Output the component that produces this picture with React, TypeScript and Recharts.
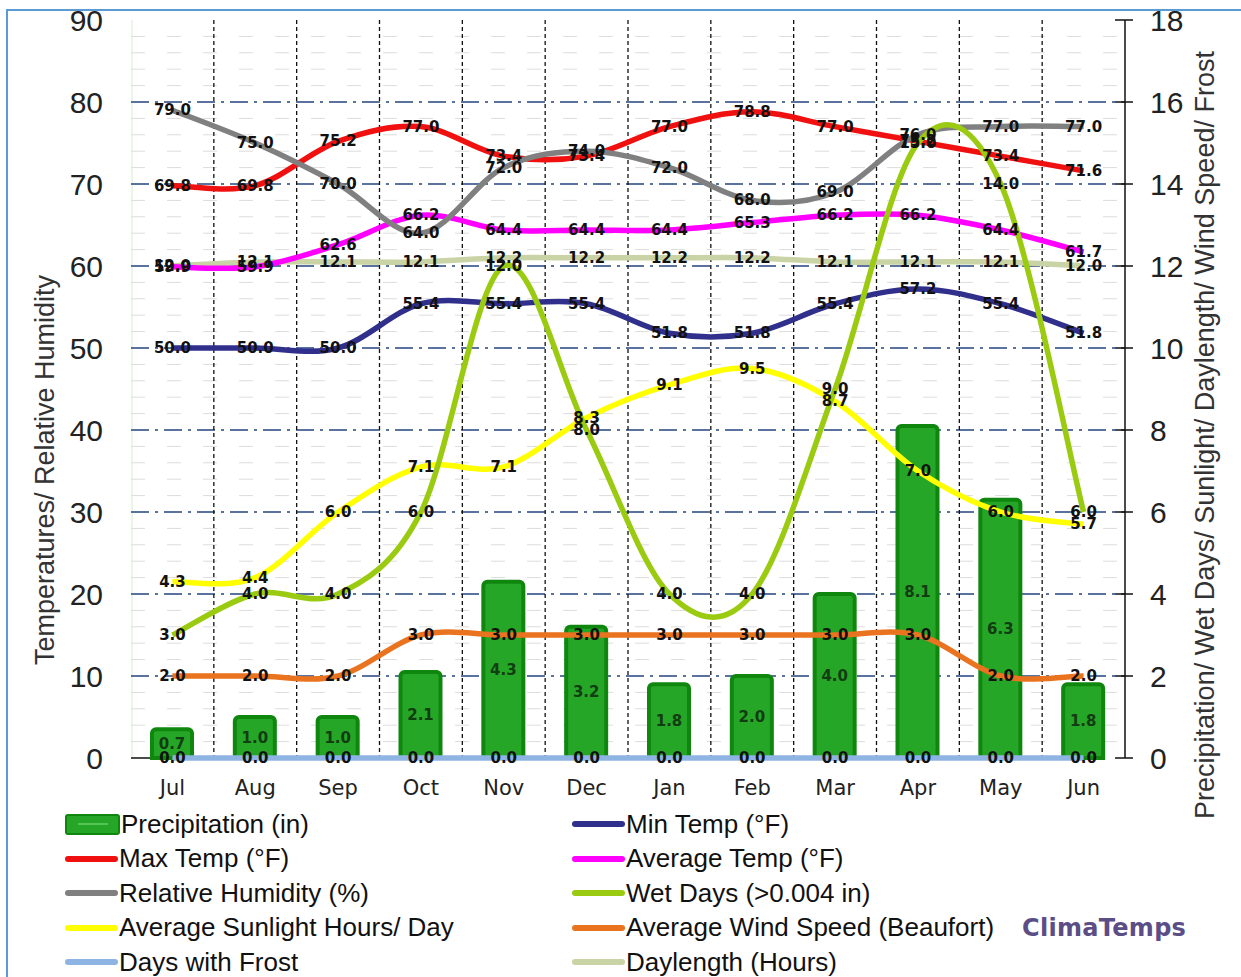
import React from 'react'
import { ComposedChart, Bar, Line, XAxis, YAxis, CartesianGrid, LabelList } from 'recharts'

const MONTHS = ['Jul', 'Aug', 'Sep', 'Oct', 'Nov', 'Dec', 'Jan', 'Feb', 'Mar', 'Apr', 'May', 'Jun']
const PRECIP = [0.7, 1.0, 1.0, 2.1, 4.3, 3.2, 1.8, 2.0, 4.0, 8.1, 6.3, 1.8]
const MIN_TEMP = [50.0, 50.0, 50.0, 55.4, 55.4, 55.4, 51.8, 51.8, 55.4, 57.2, 55.4, 51.8]
const MAX_TEMP = [69.8, 69.8, 75.2, 77.0, 73.4, 73.4, 77.0, 78.8, 77.0, 75.2, 73.4, 71.6]
const AVG_TEMP = [59.9, 59.9, 62.6, 66.2, 64.4, 64.4, 64.4, 65.3, 66.2, 66.2, 64.4, 61.7]
const HUMIDITY = [79.0, 75.0, 70.0, 64.0, 72.0, 74.0, 72.0, 68.0, 69.0, 76.0, 77.0, 77.0]
const WET_DAYS = [3.0, 4.0, 4.0, 6.0, 12.0, 8.0, 4.0, 4.0, 9.0, 15.0, 14.0, 6.0]
const SUNLIGHT = [4.3, 4.4, 6.0, 7.1, 7.1, 8.3, 9.1, 9.5, 8.7, 7.0, 6.0, 5.7]
const WIND = [2.0, 2.0, 2.0, 3.0, 3.0, 3.0, 3.0, 3.0, 3.0, 3.0, 2.0, 2.0]
const FROST = [0, 0, 0, 0, 0, 0, 0, 0, 0, 0, 0, 0]
const DAYLENGTH = [12.0, 12.1, 12.1, 12.1, 12.2, 12.2, 12.2, 12.2, 12.1, 12.1, 12.1, 12.0]

const LEFT_TICKS = [0, 10, 20, 30, 40, 50, 60, 70, 80, 90]
const RIGHT_TICKS = [0, 2, 4, 6, 8, 10, 12, 14, 16, 18]
const MAJOR_GRID = [10, 20, 30, 40, 50, 60, 70, 80]
const MINOR_GRID = [2, 4, 6, 8, 12, 14, 16, 18, 22, 24, 26, 28, 32, 34, 36, 38, 42, 44, 46, 48, 52, 54, 56, 58, 62, 64, 66, 68, 72, 74, 76, 78, 82, 84, 86, 88]

const C = {
  bar: '#26a626', barEdge: '#0f870f',
  min: '#30308c', max: '#f01010', avg: '#ff00ff', hum: '#808080',
  wet: '#9acb10', sun: '#ffff00', wind: '#e9731f', frost: '#8eb4e3', day: '#c9d3a5',
}

const data = MONTHS.map((month, i) => ({
  month,
  precip: PRECIP[i], min: MIN_TEMP[i], max: MAX_TEMP[i], avg: AVG_TEMP[i], hum: HUMIDITY[i],
  wet: WET_DAYS[i], sun: SUNLIGHT[i], wind: WIND[i], frost: FROST[i], day: DAYLENGTH[i],
}))

// excel-like smoothed line (catmull-rom through every point)
function smooth(context: any) {
  let pts: number[][] = []
  return {
    areaStart() {}, areaEnd() {},
    lineStart() { pts = [] },
    point(x: number, y: number) { pts.push([+x, +y]) },
    lineEnd() {
      const n = pts.length
      if (!n) return
      context.moveTo(pts[0][0], pts[0][1])
      const k = 1 / 6
      for (let i = 0; i < n - 1; i++) {
        const p0 = pts[Math.max(i - 1, 0)], p1 = pts[i], p2 = pts[i + 1], p3 = pts[Math.min(i + 2, n - 1)]
        context.bezierCurveTo(
          p1[0] + k * (p2[0] - p0[0]), p1[1] + k * (p2[1] - p0[1]),
          p2[0] - k * (p3[0] - p1[0]), p2[1] - k * (p3[1] - p1[1]),
          p2[0], p2[1],
        )
      }
    },
  }
}

const labelStyle: React.CSSProperties = { fontFamily: '"DejaVu Sans", Verdana, sans-serif', fontSize: 15, fontWeight: 700 }

const valueLabel = (color: string) => (props: any) => {
  const vb = props.viewBox || {}
  const x = (vb.x ?? props.x) + (vb.width || 0) / 2
  const y = (vb.y ?? props.y) + (vb.height || 0) / 2
  return (
    <text x={x} y={y} textAnchor="middle" dominantBaseline="central" fill={color} style={labelStyle}>
      {Number(props.value).toFixed(1)}
    </text>
  )
}

const tickFont = { fontFamily: '"Liberation Sans", Arial, sans-serif', fontSize: 30, fill: '#222' }

const LeftTick = (props: any) => {
  const { x, y, payload } = props
  return (
    <g>
      {payload.value === 0 && <line x1={x + 28} x2={x + 47} y1={y} y2={y} stroke="#111" strokeWidth={1.5} />}
      <text x={x} y={y} dy="0.36em" textAnchor="end" style={tickFont}>{payload.value}</text>
    </g>
  )
}

const RightTick = (props: any) => {
  const { x, y, payload } = props
  return (
    <g>
      <line x1={x - 35} x2={x - 17} y1={y} y2={y} stroke="#111" strokeWidth={1.5} />
      <text x={x} y={y} dy="0.36em" textAnchor="start" style={tickFont}>{payload.value}</text>
    </g>
  )
}

const LEGEND_LEFT = [
  { name: 'Precipitation (in)', color: C.bar, bar: true },
  { name: 'Max Temp (°F)', color: C.max },
  { name: 'Relative Humidity (%)', color: C.hum },
  { name: 'Average Sunlight Hours/ Day', color: C.sun },
  { name: 'Days with Frost', color: C.frost },
]
const LEGEND_RIGHT = [
  { name: 'Min Temp (°F)', color: C.min },
  { name: 'Average Temp (°F)', color: C.avg },
  { name: 'Wet Days (>0.004 in)', color: C.wet },
  { name: 'Average Wind Speed (Beaufort)', color: C.wind },
  { name: 'Daylength (Hours)', color: C.day },
]

function LegendCol({ items, left }: { items: any[]; left: number }) {
  return (
    <div style={{ position: 'absolute', left, top: 807 }}>
      {items.map((it) => (
        <div key={it.name} style={{ display: 'flex', alignItems: 'center', height: 34.5, fontFamily: '"Liberation Sans", Arial, sans-serif', fontSize: 26, color: '#111', whiteSpace: 'nowrap' }}>
          {it.bar ? (
            <div style={{ width: 51, height: 17, background: C.bar, border: `2px solid ${C.barEdge}`, borderRadius: 3, marginRight: 1, display: 'flex', alignItems: 'center', justifyContent: 'center' }}>
              <div style={{ width: 30, height: 2, background: '#55c455' }} />
            </div>
          ) : (
            <div style={{ width: 53, height: 6, background: it.color, borderRadius: 3, marginRight: 1 }} />
          )}
          {it.name}
        </div>
      ))}
    </div>
  )
}

export default function App() {
  const lineProps = { dot: false, activeDot: false, isAnimationActive: false, type: smooth as any, strokeWidth: 5.5 }
  const titleStyle: React.CSSProperties = { position: 'absolute', transform: 'translate(-50%, -50%) rotate(-90deg)', whiteSpace: 'nowrap', fontFamily: '"Liberation Sans", Arial, sans-serif', fontSize: 27, color: '#333' }
  return (
    <div style={{ position: 'absolute', left: 0, top: 0, width: 1241, height: 977, background: '#fff', overflow: 'hidden' }}>
      <div style={{ position: 'absolute', left: 6, top: 9, width: 1300, height: 1100, border: '2px solid #5b9bd5' }} />
      <div style={{ position: 'absolute', left: 0, top: 0 }}>
        <ComposedChart width={1241} height={800} data={data} margin={{ top: 20, right: 0, bottom: 0, left: 0 }}>
          <CartesianGrid yAxisId="left" vertical={false} horizontalValues={MINOR_GRID} stroke="#dcdcdc" strokeDasharray="14 22" />
          <CartesianGrid yAxisId="left" horizontal={false} stroke="#d8ecd0"
            verticalCoordinatesGenerator={({ offset }: any) => [offset.left + 1]} />
          <CartesianGrid yAxisId="left" vertical={false} horizontalValues={MAJOR_GRID} stroke="#24457f" strokeWidth={1.5} strokeDasharray="18 6 3 6" />
          <CartesianGrid yAxisId="left" horizontal={false} stroke="#111" strokeWidth={1.3} strokeDasharray="4 3"
            verticalCoordinatesGenerator={({ offset }: any) => MONTHS.slice(1).map((_, i) => offset.left + ((i + 1) * offset.width) / MONTHS.length)} />

          <XAxis dataKey="month" axisLine={false} tickLine={false} height={42} tickSize={6} tickMargin={16} interval={0}
            tick={{ fontFamily: '"DejaVu Sans", Verdana, sans-serif', fontSize: 21, fill: '#222' }} />
          <YAxis yAxisId="left" domain={[0, 90]} ticks={LEFT_TICKS} interval={0} width={131} axisLine={false} tickLine={false}
            tickSize={6} tickMargin={22} tick={<LeftTick />} />
          <YAxis yAxisId="right" orientation="right" domain={[0, 18]} ticks={RIGHT_TICKS} interval={0} width={116}
            axisLine={{ stroke: '#111', strokeWidth: 1.5 }} tickLine={false} tickSize={8} tickMargin={17} tick={<RightTick />} />

          <Bar yAxisId="right" dataKey="precip" barSize={40} fill={C.bar} stroke={C.barEdge} strokeWidth={4} radius={[4, 4, 0, 0]} isAnimationActive={false}>
            <LabelList dataKey="precip" content={valueLabel('#123c12')} />
          </Bar>
          <Line yAxisId="right" dataKey="day" stroke={C.day} {...lineProps}>
            <LabelList dataKey="day" content={valueLabel('#111')} />
          </Line>
          <Line yAxisId="left" dataKey="min" stroke={C.min} {...lineProps}>
            <LabelList dataKey="min" content={valueLabel('#111')} />
          </Line>
          <Line yAxisId="left" dataKey="max" stroke={C.max} {...lineProps}>
            <LabelList dataKey="max" content={valueLabel('#111')} />
          </Line>
          <Line yAxisId="left" dataKey="avg" stroke={C.avg} {...lineProps}>
            <LabelList dataKey="avg" content={valueLabel('#111')} />
          </Line>
          <Line yAxisId="left" dataKey="hum" stroke={C.hum} {...lineProps}>
            <LabelList dataKey="hum" content={valueLabel('#111')} />
          </Line>
          <Line yAxisId="right" dataKey="sun" stroke={C.sun} {...lineProps}>
            <LabelList dataKey="sun" content={valueLabel('#111')} />
          </Line>
          <Line yAxisId="right" dataKey="wet" stroke={C.wet} {...lineProps}>
            <LabelList dataKey="wet" content={valueLabel('#111')} />
          </Line>
          <Line yAxisId="right" dataKey="wind" stroke={C.wind} {...lineProps}>
            <LabelList dataKey="wind" content={valueLabel('#111')} />
          </Line>
          <Line yAxisId="right" dataKey="frost" stroke={C.frost} {...lineProps}>
            <LabelList dataKey="frost" content={valueLabel('#111')} />
          </Line>
        </ComposedChart>
      </div>

      <div style={{ ...titleStyle, left: 45, top: 470 }}>Temperatures/ Relative Humidity</div>
      <div style={{ ...titleStyle, left: 1205, top: 435 }}>Precipitation/ Wet Days/ Sunlight/ Daylength/ Wind Speed/ Frost</div>

      <LegendCol items={LEGEND_LEFT} left={65} />
      <LegendCol items={LEGEND_RIGHT} left={572} />
      <div style={{ position: 'absolute', left: 1022, top: 914, fontFamily: '"DejaVu Sans", Verdana, sans-serif', fontWeight: 700, fontSize: 24, letterSpacing: 0.3, color: '#5b4d86' }}>
        ClimaTemps
      </div>
    </div>
  )
}
